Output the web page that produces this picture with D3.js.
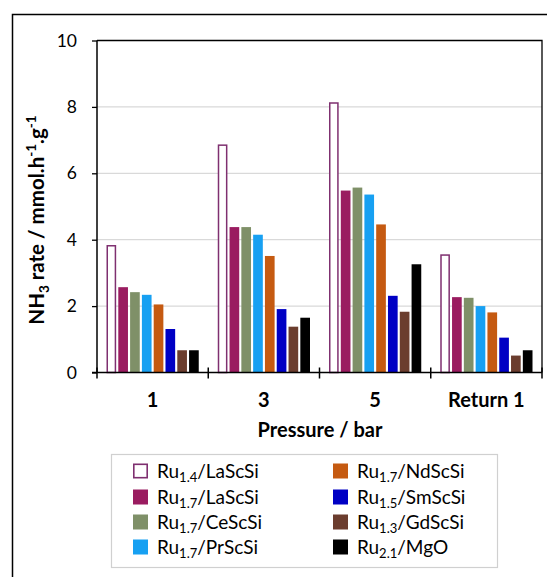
<!DOCTYPE html>
<html><head><meta charset="utf-8">
<script src="https://cdn.jsdelivr.net/npm/d3@7"></script>
<style>body{margin:0;background:#fff}svg{display:block;font-family:Lato,"Open Sans",sans-serif}</style>
</head><body><svg id="c" width="547" height="577"></svg>
<script>
const categories = ["1", "3", "5", "Return 1"];
const seriesNames = [
  ["Ru","1.4","/LaScSi"], ["Ru","1.7","/LaScSi"], ["Ru","1.7","/CeScSi"], ["Ru","1.7","/PrScSi"],
  ["Ru","1.7","/NdScSi"], ["Ru","1.5","/SmScSi"], ["Ru","1.3","/GdScSi"], ["Ru","2.1","/MgO"]
];
const s1 = [3.84, 6.87, 8.14, 3.56];
const s2 = [2.57, 4.38, 5.48, 2.27];
const s3 = [2.42, 4.38, 5.57, 2.25];
const s4 = [2.34, 4.15, 5.36, 2.00];
const s5 = [2.05, 3.51, 4.46, 1.81];
const s6 = [1.31, 1.91, 2.31, 1.05];
const s7 = [0.67, 1.38, 1.83, 0.51];
const s8 = [0.67, 1.65, 3.26, 0.67];
const seriesValues = [s1, s2, s3, s4, s5, s6, s7, s8];
const fills = ["#ffffff", "#9a1c60", "#7f9068", "#17a0f2", "#c55a11", "#0000c4", "#6b3d2e", "#000000"];
const strokes = ["#7f3070", null, null, null, null, null, null, null];
const yTicks = [0, 2, 4, 6, 8, 10];

const svg = d3.select("#c");
const L = 97, R = 542, T = 40.5, B = 372.5;

// outer frame
svg.append("path").attr("d", "M560,14.5H12.5V590").attr("fill", "none").attr("stroke", "#000").attr("stroke-width", 1.5);

const x0 = d3.scaleBand().domain(categories).range([L, R]).padding(0);
const x1 = d3.scaleBand().domain(d3.range(8)).range([9.5, x0.bandwidth() - 9.5]).paddingInner(0.18);
const y = d3.scaleLinear().domain([0, 10]).range([B, T]);

// grid
svg.append("g").selectAll("line").data(yTicks.filter(d => d > 0 && d < 10)).join("line")
  .attr("x1", L).attr("x2", R).attr("y1", d => y(d)).attr("y2", d => y(d))
  .attr("stroke", "#d9d9d9").attr("stroke-width", 1.3);

// bars
categories.forEach((c, ci) => {
  seriesValues.forEach((vals, si) => {
    const v = vals[ci];
    const sw = strokes[si] ? 1.5 : 0;
    svg.append("rect")
      .attr("x", x0(c) + x1(si) + sw / 2)
      .attr("y", y(v) + sw / 2)
      .attr("width", x1.bandwidth() - sw)
      .attr("height", y(0) - y(v) - sw / 2)
      .attr("fill", fills[si])
      .attr("stroke", strokes[si] || "none")
      .attr("stroke-width", sw);
  });
});

// plot box top/right
svg.append("path").attr("d", `M${L},${T}H${R}V${B}`).attr("fill", "none").attr("stroke", "#000").attr("stroke-width", 1.3);

// y axis
const yAxis = d3.axisLeft(y).tickValues(yTicks).tickSize(5).tickPadding(15);
const gy = svg.append("g").attr("transform", `translate(${L},0)`).call(yAxis);
gy.select(".domain").attr("stroke", "#000").attr("stroke-width", 1.5).attr("d", `M0,${T}V${B}`);
gy.selectAll(".tick line").attr("stroke", "#000").attr("stroke-width", 1.3);
gy.selectAll(".tick text").attr("font-size", 17.5).attr("font-family", "Lato, sans-serif").attr("fill", "#000");

// x axis
const gx = svg.append("g").attr("transform", `translate(0,${B})`);
gx.append("line").attr("x1", L - 5).attr("x2", R).attr("stroke", "#000").attr("stroke-width", 1.5);
const bounds = categories.map(c => x0(c)).concat([R]);
gx.selectAll("line.tk").data(bounds).join("line").attr("class", "tk")
  .attr("x1", d => d).attr("x2", d => d).attr("y1", -5).attr("y2", 6)
  .attr("stroke", "#000").attr("stroke-width", 1.5);
gx.selectAll("text").data(categories).join("text")
  .attr("x", d => x0(d) + x0.bandwidth() / 2).attr("y", 34)
  .attr("text-anchor", "middle").attr("font-size", 20).attr("font-weight", "bold").text(d => d);

// axis titles
svg.append("text").attr("x", 320).attr("y", 437).attr("text-anchor", "middle")
  .attr("font-size", 20).attr("font-weight", "bold").text("Pressure / bar");

const yt = svg.append("text").attr("transform", `translate(44,220) rotate(-90)`)
  .attr("text-anchor", "middle").attr("font-size", 20.5).attr("font-weight", "bold");
yt.append("tspan").text("NH");
yt.append("tspan").attr("font-size", 13.5).attr("dy", 5).text("3");
yt.append("tspan").attr("dy", -5).text(" rate / mmol.h");
yt.append("tspan").attr("font-size", 13.5).attr("dy", -8).text("-1");
yt.append("tspan").attr("dy", 8).text(".g");
yt.append("tspan").attr("font-size", 13.5).attr("dy", -8).text("-1");

// legend
svg.append("rect").attr("x", 111.5).attr("y", 454.5).attr("width", 386).attr("height", 113)
  .attr("fill", "#fff").attr("stroke", "#d0d0d0").attr("stroke-width", 1.2);
const rowsY = [471, 497, 522, 547];
seriesNames.forEach((n, i) => {
  const col = Math.floor(i / 4), row = i % 4;
  const sx = col === 0 ? 133 : 333;
  const cy = rowsY[row];
  const sw = strokes[i] ? 1.6 : 0;
  svg.append("rect").attr("x", sx + sw / 2).attr("y", cy - 7.5 + sw / 2)
    .attr("width", 15 - sw).attr("height", 15 - sw)
    .attr("fill", fills[i]).attr("stroke", strokes[i] || "none").attr("stroke-width", sw);
  const t = svg.append("text").attr("x", sx + 24).attr("y", cy + 7).attr("font-size", 19);
  t.append("tspan").text(n[0]);
  t.append("tspan").attr("font-size", 13).attr("dy", 4).text(n[1]);
  t.append("tspan").attr("dy", -4).text(n[2]);
});
</script></body></html>
